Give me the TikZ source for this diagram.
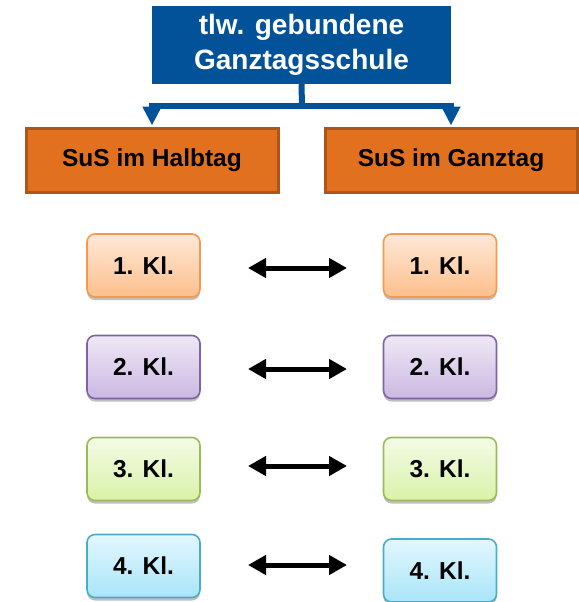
\documentclass[tikz,border=0pt]{standalone}
\usepackage{fontspec}
\setmainfont{Liberation Sans}
\usetikzlibrary{arrows.meta,shadows}
\definecolor{hblue}{HTML}{02529A}
\definecolor{horange}{HTML}{E2711F}
\definecolor{horangeb}{HTML}{AC561C}
\definecolor{oT}{HTML}{FFE8D8}\definecolor{oB}{HTML}{FCBF8C}\definecolor{oD}{HTML}{F59A4C}
\definecolor{pT}{HTML}{EFE8F6}\definecolor{pB}{HTML}{CBB8E2}\definecolor{pD}{HTML}{8064A2}
\definecolor{gT}{HTML}{F4FBE6}\definecolor{gB}{HTML}{D9F2A8}\definecolor{gD}{HTML}{9BBB59}
\definecolor{cT}{HTML}{E3F7FF}\definecolor{cB}{HTML}{A8E5F8}\definecolor{cD}{HTML}{4BACC6}
\tikzset{
  titlebox/.style={fill=hblue, text=white, font=\fontsize{28}{35}\selectfont\bfseries, align=center, minimum width=299pt, minimum height=78pt, inner sep=0pt},
  susbox/.style={fill=horange, draw=horangeb, line width=3pt, font=\fontsize{24.5}{29}\selectfont\bfseries, minimum width=252pt, minimum height=64pt, inner sep=0pt},
  klbox/.style={rounded corners=8pt, line width=1.6pt, font=\fontsize{24.5}{29}\selectfont\bfseries, minimum width=113pt, minimum height=63pt, inner sep=0pt,
     drop shadow={shadow xshift=0pt, shadow yshift=-3pt, opacity=0.25, fill=black}},
  k1/.style={klbox, draw=oD, top color=oT, bottom color=oB},
  k2/.style={klbox, draw=pD, top color=pT, bottom color=pB},
  k3/.style={klbox, draw=gD, top color=gT, bottom color=gB},
  k4/.style={klbox, draw=cD, top color=cT, bottom color=cB},
  bluearrow/.style={draw=hblue, line width=6pt, -{Triangle[length=19pt,width=18pt]}},
  dblarrow/.style={draw=black, line width=5pt, {Triangle[length=18pt,width=19pt]}-{Triangle[length=18pt,width=19pt]}},
}
\begin{document}
\begin{tikzpicture}[x=1pt,y=-1pt]
\useasboundingbox (0,0) rectangle (578,602);
\node[titlebox] (top) at (301.5,45) {tlw. gebundene\\Ganztagsschule};
\node[susbox] (half) at (152,160) {SuS im Halbtag};
\node[susbox] (full) at (451,160) {SuS im Ganztag};
\coordinate (j) at (302,106);
\draw[draw=hblue, line width=6pt] (top.south) -- (j);
\draw[bluearrow] (j) -| ([yshift=1pt]half.north);
\draw[bluearrow] (j) -| ([yshift=1pt]full.north);
% classes
\node[k1] (L1) at (143.5,265.5) {1. Kl.};
\node[k1] (R1) at (440,265.5) {1. Kl.};
\node[k2] (L2) at (143.5,367) {2. Kl.};
\node[k2] (R2) at (440,367) {2. Kl.};
\node[k3] (L3) at (143.5,469) {3. Kl.};
\node[k3] (R3) at (440,469) {3. Kl.};
\node[k4] (L4) at (143.5,566) {4. Kl.};
\node[k4] (R4) at (440,570.5) {4. Kl.};
% double arrows
\coordinate (a1l) at (248,268); \coordinate (a1r) at (347,268);
\coordinate (a2l) at (248,369); \coordinate (a2r) at (347,369);
\coordinate (a3l) at (248,466); \coordinate (a3r) at (347,466);
\coordinate (a4l) at (248,565); \coordinate (a4r) at (347,565);
\draw[dblarrow] (a1l) -- (a1r);
\draw[dblarrow] (a2l) -- (a2r);
\draw[dblarrow] (a3l) -- (a3r);
\draw[dblarrow] (a4l) -- (a4r);
\end{tikzpicture}
\end{document}
